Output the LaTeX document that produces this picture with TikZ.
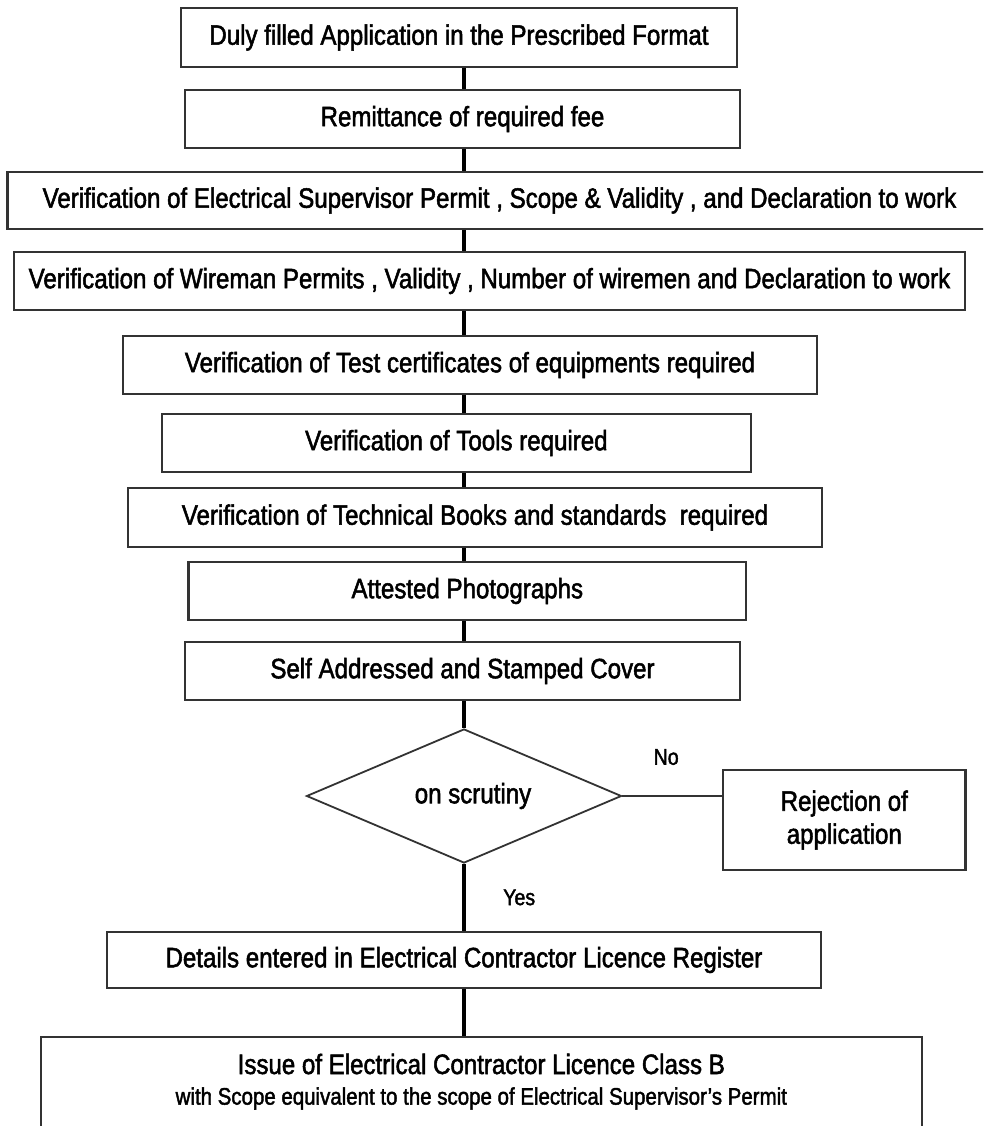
\documentclass[tikz,border=0pt]{standalone}
\usepackage{fontspec}
\setmainfont{Liberation Sans}[FakeStretch=0.86, FakeBold=1.8]
\usetikzlibrary{shapes.geometric}
\tikzset{
  stepbox/.style={draw=black!80, line width=2.2pt, fill=white, inner sep=0pt,
    font=\fontsize{28}{30}\selectfont, align=center},
  conn/.style={draw=black, line width=4.5pt},
  branch/.style={draw=black!80, line width=2pt},
  lab/.style={inner sep=0pt, font=\fontsize{22.7}{25}\selectfont},
  decide/.style={diamond, draw=black!80, line width=1.8pt, fill=white, inner sep=0pt,
    aspect=2.35, font=\fontsize{28}{30}\selectfont}
}
\begin{document}
\begin{tikzpicture}[x=1pt,y=-1pt]
\useasboundingbox (0,0) rectangle (983,1126);
\clip (0,0) rectangle (983,1126);
\coordinate (spine) at (464,0);

\node[stepbox, minimum width=556.5pt, minimum height=58.4pt] (b1) at (459,37.5)
  {Duly filled Application in the Prescribed Format};
\node[stepbox, minimum width=555pt, minimum height=58pt] (b2) at (462.5,119)
  {Remittance of required fee};
\node[stepbox, minimum width=984pt, minimum height=57pt] (b3) at (499.5,200.5)
  {Verification of Electrical Supervisor Permit , Scope \& Validity , and Declaration to work};
\node[stepbox, minimum width=951pt, minimum height=58pt] (b4) at (489.5,281)
  {Verification of Wireman Permits , Validity , Number of wiremen and Declaration to work};
\node[stepbox, minimum width=694.3pt, minimum height=58pt] (b5) at (470,365)
  {Verification of Test certificates of equipments required};
\node[stepbox, minimum width=589.3pt, minimum height=58pt] (b6) at (456.4,443)
  {Verification of Tools required};
\node[stepbox, minimum width=694pt, minimum height=59pt] (b7) at (475,517.5)
  {Verification of Technical Books and standards\ \ required};
\node[stepbox, minimum width=557.5pt, minimum height=58pt] (b8) at (467.3,591)
  {Attested Photographs};
\node[stepbox, minimum width=555pt, minimum height=58pt] (b9) at (462.5,671)
  {Self Addressed and Stamped Cover};
\node[decide, minimum width=315pt, minimum height=134pt] (dia) at (464,796)
  {\hspace*{18pt}on scrutiny};
\node[stepbox, minimum width=242.5pt, minimum height=100pt,
  font=\fontsize{28}{33}\selectfont] (rej) at (844.3,820)
  {Rejection of\\application};
\node[stepbox, minimum width=714.4pt, minimum height=56pt] (b10) at (464,960)
  {Details entered in Electrical Contractor Licence Register};
\node[stepbox, anchor=north, minimum width=880.6pt, inner ysep=16.6pt] (b11) at (481.3,1036)
  {Issue of Electrical Contractor Licence Class B\\[0.6pt]
   {\fontsize{23.8}{26}\selectfont with Scope equivalent to the scope of Electrical Supervisor’s Permit}\\
   \rule{0pt}{30pt}};

\draw[conn] (b1.south -| spine) -- (b2.north -| spine);
\draw[conn] (b2.south -| spine) -- (b3.north -| spine);
\draw[conn] (b3.south -| spine) -- (b4.north -| spine);
\draw[conn] (b4.south -| spine) -- (b5.north -| spine);
\draw[conn] (b5.south -| spine) -- (b6.north -| spine);
\draw[conn] (b6.south -| spine) -- (b7.north -| spine);
\draw[conn] (b7.south -| spine) -- (b8.north -| spine);
\draw[conn] (b8.south -| spine) -- (b9.north -| spine);
\draw[conn] (b9.south -| spine) -- (dia.north);
\draw[branch] (dia.east) -- node[lab, above=30pt, xshift=-6pt] {No} (dia.east -| rej.west);
\draw[conn] (dia.south) -- node[lab, right=37pt] {Yes} (b10.north -| spine);
\draw[conn] (b10.south -| spine) -- (b11.north -| spine);
\end{tikzpicture}
\end{document}
